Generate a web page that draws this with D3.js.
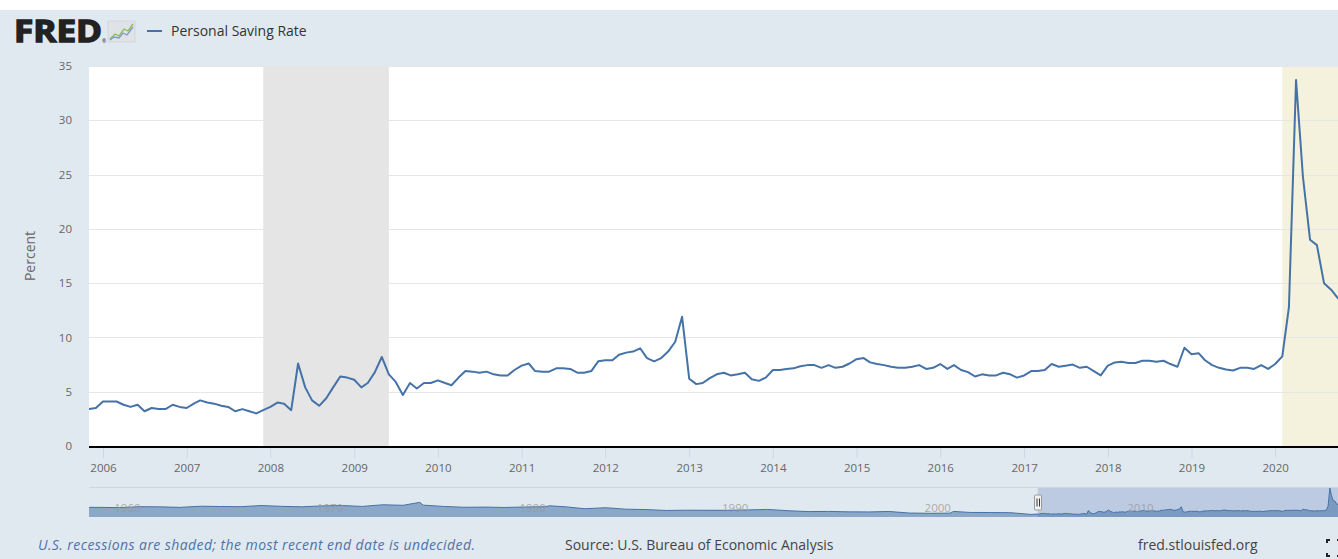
<!DOCTYPE html>
<html><head><meta charset="utf-8">
<script src="https://cdn.jsdelivr.net/npm/d3@7/dist/d3.min.js"></script>
<style>
body{margin:0;background:#fff;overflow:hidden}
text{font-family:"Open Sans","Noto Sans",sans-serif}
</style>
</head><body>
<svg id="chart" width="1338" height="559"></svg>
<script>
// ---------------- data ----------------
const seriesName = "Personal Saving Rate";
const yAxisTitle = "Percent";
const firstMonth = "2005-11-01";
// monthly values, Nov 2005 .. Oct 2020
const savingRate = [
  3.4, 3.5,
  4.1, 4.1, 4.1, 3.8, 3.6, 3.8, 3.2, 3.5, 3.4, 3.4, 3.8, 3.6,
  3.5, 3.9, 4.2, 4.0, 3.9, 3.7, 3.6, 3.2, 3.4, 3.2, 3.0, 3.3,
  3.6, 4.0, 3.9, 3.3, 7.6, 5.4, 4.2, 3.7, 4.4, 5.4, 6.4, 6.3,
  6.1, 5.4, 5.8, 6.8, 8.2, 6.6, 5.9, 4.7, 5.8, 5.3, 5.8, 5.8,
  6.05, 5.8, 5.6, 6.3, 6.9, 6.85, 6.75, 6.85, 6.6, 6.5, 6.5, 7.0,
  7.4, 7.6, 6.9, 6.85, 6.85, 7.15, 7.15, 7.1, 6.75, 6.75, 6.9, 7.8,
  7.9, 7.9, 8.4, 8.6, 8.7, 9.0, 8.1, 7.8, 8.1, 8.7, 9.6, 11.9,
  6.2, 5.7, 5.8, 6.25, 6.6, 6.75, 6.5, 6.6, 6.75, 6.15, 6.0, 6.3,
  7.0, 7.0, 7.1, 7.15, 7.35, 7.45, 7.45, 7.2, 7.45, 7.2, 7.3, 7.6,
  8.0, 8.1, 7.7, 7.55, 7.45, 7.3, 7.2, 7.2, 7.3, 7.45, 7.1, 7.2,
  7.55, 7.1, 7.45, 7.0, 6.8, 6.4, 6.6, 6.5, 6.5, 6.75, 6.6, 6.3,
  6.5, 6.9, 6.9, 7.0, 7.55, 7.3, 7.4, 7.5, 7.2, 7.3, 6.9, 6.5,
  7.4, 7.7, 7.75, 7.65, 7.65, 7.85, 7.85, 7.75, 7.85, 7.55, 7.3, 9.05,
  8.45, 8.55, 7.9, 7.45, 7.2, 7.05, 6.95, 7.2, 7.2, 7.1, 7.45, 7.1,
  7.55, 8.25, 12.8, 33.7, 24.8, 19.0, 18.5, 15.0, 14.4, 13.6
];
const yTicks = [0, 5, 10, 15, 20, 25, 30, 35];
const xTickYears = [2006,2007,2008,2009,2010,2011,2012,2013,2014,2015,2016,2017,2018,2019,2020];
const recessionStarts = ["2007-12-01", "2020-02-01"];
const recessionEnds   = ["2009-06-01", null];   // null: end undecided
const recessionColors = ["#e5e5e5", "#f4f2dc"];

// navigator (full history, approximate annual levels before the zoomed window)
const navYears  = [1959,1960,1961,1962,1963,1964,1965,1966,1967,1968,1969,1970,1971,1972,1973,1974,1975,1976,1977,1978,1979,1980,1981,1982,1983,1984,1985,1986,1987,1988,1989,1990,1991,1992,1993,1994,1995,1996,1997,1998,1999,2000,2001,2002,2003,2004,2005];
const navValues = [11.2,10.9,12.0,11.8,11.2,12.5,12.2,12.0,13.3,12.4,11.8,12.9,13.3,12.3,14.2,13.6,13.8,12.3,11.3,11.5,11.1,11.6,12.0,11.9,9.6,10.8,9.1,8.6,7.6,7.9,7.8,7.8,8.2,8.8,7.3,6.3,6.5,6.0,5.9,6.4,4.6,4.3,4.5,5.3,5.2,5.0,3.0];
const navSpikeDates  = ["1975-05-01", "1981-10-01", "2001-09-01"];
const navSpikeValues = [17.0, 13.0, 6.5];
const navLabelYears = [1960, 1970, 1980, 1990, 2000, 2010];
const navStart = "1959-01-01";
const footNote = "U.S. recessions are shaded; the most recent end date is undecided.";
const sourceText = "Source: U.S. Bureau of Economic Analysis";
const siteText = "fred.stlouisfed.org";

// ---------------- layout ----------------
const W = 1338, H = 559;
const plot = {left: 89, right: 1338, top: 66, bottom: 446};
const nav = {left: 89, right: 1340, top: 488, bottom: 517};
const lineColor = "#4572a7";

const parse = d3.timeParse("%Y-%m-%d");
const start = parse(firstMonth);
const data = savingRate.map((v, i) => ({date: d3.timeMonth.offset(start, i), value: v}));
const endDate = data[data.length - 1].date;

const svg = d3.select("#chart");

// background
svg.append("rect").attr("x", 0).attr("y", 10).attr("width", W).attr("height", H - 10).attr("fill", "#e1e9f0");

const x = d3.scaleTime().domain([start, endDate]).range([plot.left, plot.right]);
const y = d3.scaleLinear().domain([0, 35]).range([plot.bottom, plot.top]);

// plot background
svg.append("rect").attr("x", plot.left).attr("y", plot.top)
  .attr("width", plot.right - plot.left + 10).attr("height", plot.bottom - plot.top).attr("fill", "#fff");

svg.append("clipPath").attr("id", "clip").append("rect")
  .attr("x", plot.left).attr("y", plot.top - 2).attr("width", plot.right - plot.left + 10).attr("height", plot.bottom - plot.top + 4);

const gPlot = svg.append("g").attr("clip-path", "url(#clip)");

// recession bands
recessionStarts.forEach((s, i) => {
  const x0 = x(parse(s));
  const x1 = recessionEnds[i] ? x(parse(recessionEnds[i])) : plot.right + 10;
  gPlot.append("rect").attr("x", x0).attr("y", plot.top).attr("width", x1 - x0)
    .attr("height", plot.bottom - plot.top).attr("fill", recessionColors[i]);
});

// grid lines
gPlot.selectAll("line.grid").data(yTicks.filter(t => t > 0)).enter().append("line")
  .attr("class", "grid")
  .attr("x1", plot.left).attr("x2", plot.right + 10)
  .attr("y1", d => Math.round(y(d)) + 0.5).attr("y2", d => Math.round(y(d)) + 0.5)
  .attr("stroke", "#e6e6e6").attr("stroke-width", 1);

// series line
gPlot.append("path").datum(data)
  .attr("fill", "none").attr("stroke", lineColor).attr("stroke-width", 2)
  .attr("stroke-linejoin", "round").attr("stroke-linecap", "round")
  .attr("d", d3.line().x(d => x(d.date)).y(d => y(d.value)));

// y axis labels
const yAxis = d3.axisLeft(y).tickValues(yTicks).tickSize(0).tickPadding(0).tickFormat(d3.format("d"));
const gy = svg.append("g").attr("transform", `translate(${plot.left - 17},0)`).call(yAxis);
gy.select(".domain").remove();
gy.selectAll("text").attr("fill", "#666").attr("font-size", 11.5).attr("font-family", "'Open Sans',sans-serif");

// y axis title
svg.append("text").attr("transform", `translate(35,${(plot.top + plot.bottom) / 2}) rotate(-90)`)
  .attr("text-anchor", "middle").attr("fill", "#666").attr("font-size", 14).text(yAxisTitle);

// x axis
const xAxis = d3.axisBottom(x)
  .tickValues(xTickYears.map(yr => new Date(yr, 0, 1)))
  .tickFormat(d3.timeFormat("%Y")).tickSize(11).tickPadding(6);
const gx = svg.append("g").attr("transform", `translate(0,${plot.bottom + 1})`).call(xAxis);
gx.select(".domain").remove();
gx.selectAll(".tick line").attr("stroke", "#ccd6eb");
gx.selectAll("text").attr("fill", "#666").attr("font-size", 11.5).attr("font-family", "'Open Sans',sans-serif");
svg.append("line").attr("x1", plot.left).attr("x2", W + 5)
  .attr("y1", plot.bottom + 1).attr("y2", plot.bottom + 1)
  .attr("stroke", "#000").attr("stroke-width", 2);

// ---------------- navigator ----------------
const navData = navYears.map((yr, i) => ({date: new Date(yr, 6, 1), value: navValues[i]}))
  .concat(navSpikeDates.map((d, i) => ({date: parse(d), value: navSpikeValues[i]})))
  .filter(d => d.date < start)
  .concat(data)
  .sort((a, b) => a.date - b.date);
navData.unshift({date: parse(navStart), value: navValues[0]});

const nx = d3.scaleTime().domain([parse(navStart), endDate]).range([nav.left, nav.right]);
const ny = d3.scaleLinear().domain([0, d3.max(navData, d => d.value)]).range([nav.bottom, nav.top]);

svg.append("line").attr("x1", nav.left).attr("x2", W).attr("y1", nav.top - 0.5).attr("y2", nav.top - 0.5)
  .attr("stroke", "#cfd6de").attr("stroke-width", 1);

// selected mask
const maskX = nx(start);
svg.append("rect").attr("x", maskX).attr("y", nav.top).attr("width", nav.right - maskX)
  .attr("height", nav.bottom - nav.top).attr("fill", "rgba(102,133,194,0.3)");

svg.append("path").datum(navData)
  .attr("fill", lineColor).attr("fill-opacity", 0.55)
  .attr("d", d3.area().x(d => nx(d.date)).y0(nav.bottom).y1(d => ny(d.value)));
svg.append("path").datum(navData)
  .attr("fill", "none").attr("stroke", lineColor).attr("stroke-width", 1)
  .attr("d", d3.line().x(d => nx(d.date)).y(d => ny(d.value)));

svg.selectAll("text.navlab").data(navLabelYears).enter().append("text")
  .attr("class", "navlab")
  .attr("x", d => nx(new Date(d, 0, 1)) + 5).attr("y", nav.bottom - 5)
  .attr("fill", "#999").attr("fill-opacity", 0.8).attr("font-size", 11.5).text(d => d);

// handle
const hg = svg.append("g").attr("transform", `translate(${Math.round(maskX)},${(nav.top + nav.bottom) / 2})`);
hg.append("rect").attr("x", -3.5).attr("y", -7.5).attr("width", 7).attr("height", 15).attr("rx", 1)
  .attr("fill", "#f2f2f2").attr("stroke", "#999");
hg.append("line").attr("x1", -1).attr("x2", -1).attr("y1", -4).attr("y2", 4).attr("stroke", "#333");
hg.append("line").attr("x1", 1.5).attr("x2", 1.5).attr("y1", -4).attr("y2", 4).attr("stroke", "#333");

// ---------------- header ----------------
svg.append("text").attr("x", 14).attr("y", 42).attr("font-family", "'Liberation Sans',Arial,sans-serif")
  .attr("font-weight", "bold").attr("font-size", 30).attr("fill", "#222").attr("stroke", "#222").attr("stroke-width", 1.4)
  .attr("textLength", 88).attr("lengthAdjust", "spacingAndGlyphs").text("FRED");
svg.append("text").attr("x", 102).attr("y", 43).attr("font-size", 5).attr("fill", "#222").text("®");
const ic = svg.append("g").attr("transform", "translate(108,21)");
ic.append("rect").attr("width", 27).attr("height", 21).attr("fill", "#dfe3e6").attr("stroke", "#c9ced3").attr("stroke-width", 0.6);
ic.append("path").attr("d", "M2,18 L7,13 L11,15 L16,8 L20,10 L25,3").attr("fill", "none").attr("stroke", "#8dbb59").attr("stroke-width", 1.3);
ic.append("path").attr("d", "M2,19 L6,16 L11,17 L15,12 L19,14 L25,6").attr("fill", "none").attr("stroke", "#7e9bc6").attr("stroke-width", 1.3);

svg.append("line").attr("x1", 147).attr("x2", 162).attr("y1", 31).attr("y2", 31).attr("stroke", lineColor).attr("stroke-width", 2);
svg.append("text").attr("x", 171).attr("y", 36).attr("font-size", 14).attr("fill", "#333").text(seriesName);

// ---------------- footer ----------------
svg.append("text").attr("x", 38).attr("y", 550).attr("font-size", 14).attr("font-style", "italic")
  .attr("fill", "#4d72aa").attr("textLength", 437).attr("lengthAdjust", "spacing").text(footNote);
svg.append("text").attr("x", 565).attr("y", 550).attr("font-size", 14).attr("fill", "#444").text(sourceText);
svg.append("text").attr("x", 1138).attr("y", 550).attr("font-size", 14).attr("fill", "#444").text(siteText);

// fullscreen icon (partially cut)
svg.append("path").attr("d", "M1327,543 v-3 h3 M1327,553 v3 h3 M1337,540 h3 M1337,556 h3")
  .attr("fill", "none").attr("stroke", "#222").attr("stroke-width", 2);
</script>
</body></html>
